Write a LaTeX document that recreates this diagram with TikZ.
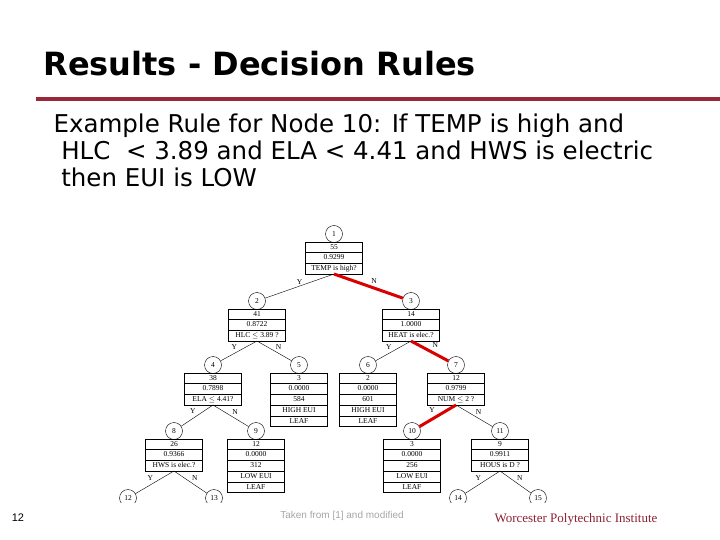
\documentclass[tikz,border=0pt]{standalone}
\usepackage{fontspec}
\usepackage{array}
\setmainfont{Liberation Serif}
\newfontfamily\slidefont{DejaVu Sans}
\newfontfamily\footfont{Liberation Sans}
\usetikzlibrary{positioning}
\definecolor{wpired}{rgb}{0.55, 0.13, 0.20}
\definecolor{rulered}{rgb}{0.60, 0.16, 0.22}
\newcolumntype{C}{@{}>{\centering\arraybackslash}p{57pt}@{}}
\newcommand{\cellrows}[1]{\renewcommand{\arraystretch}{1.25}\begin{tabular}{C}#1\end{tabular}}

\begin{document}
\begin{tikzpicture}[
        x=1pt, y=-1pt,
        ball/.style={circle, draw, minimum size=17pt, inner sep=0pt, font=\fontsize{7.5}{8}\selectfont},
        tbox/.style={draw, inner sep=0pt, font=\fontsize{7.5}{8.3}\selectfont},
        branch/.style={thin},
        path/.style={line width=3pt, red!85!black},
        yn/.style={font=\fontsize{7.5}{8}\selectfont, inner sep=1.5pt, text=black}
    ]
    \useasboundingbox (0,0) rectangle (720,540);

    % Heading
    \node[anchor=west, font=\slidefont\bfseries\fontsize{32}{36}\selectfont] (title) at (40,64) {Results - Decision Rules};
    \draw[rulered, line width=4pt] (36,99) -- (720,99);
    \node[anchor=north west, align=left, font=\slidefont\fontsize{24.5}{27}\selectfont] (rule) at (50,110)
        {Example Rule for Node 10: If TEMP is high and\\
         \ HLC\ \ {<} 3.89 and ELA {<} 4.41 and HWS is electric\\
         \ then EUI is LOW};

    % Tree nodes
    \node[ball] (c1) at (334,234) {1};
    \node[tbox, below=-1pt of c1] (b1) {\cellrows{55\\\hline 0.9299\\\hline TEMP is high?}};
    \node[ball] (c2) at (257,301) {2};
    \node[tbox, below=-1pt of c2] (b2) {\cellrows{41\\\hline 0.8722\\\hline HLC $\le$ 3.89 ?}};
    \node[ball] (c3) at (411,301) {3};
    \node[tbox, below=-1pt of c3] (b3) {\cellrows{14\\\hline 1.0000\\\hline HEAT is elec.?}};
    \node[ball] (c4) at (213,365) {4};
    \node[tbox, below=-1pt of c4] (b4) {\cellrows{38\\\hline 0.7898\\\hline ELA $\le$ 4.41?}};
    \node[ball] (c5) at (299,365) {5};
    \node[tbox, below=-1pt of c5] (b5) {\cellrows{3\\\hline 0.0000\\\hline 584\\\hline HIGH EUI\\\hline LEAF}};
    \node[ball] (c6) at (368,365) {6};
    \node[tbox, below=-1pt of c6] (b6) {\cellrows{2\\\hline 0.0000\\\hline 601\\\hline HIGH EUI\\\hline LEAF}};
    \node[ball] (c7) at (456,365) {7};
    \node[tbox, below=-1pt of c7] (b7) {\cellrows{12\\\hline 0.9799\\\hline NUM $\le$ 2 ?}};
    \node[ball] (c8) at (174,431) {8};
    \node[tbox, below=-1pt of c8] (b8) {\cellrows{26\\\hline 0.9366\\\hline HWS is elec.?}};
    \node[ball] (c9) at (256,431) {9};
    \node[tbox, below=-1pt of c9] (b9) {\cellrows{12\\\hline 0.0000\\\hline 312\\\hline LOW EUI\\\hline LEAF}};
    \node[ball] (c10) at (412,431) {10};
    \node[tbox, below=-1pt of c10] (b10) {\cellrows{3\\\hline 0.0000\\\hline 256\\\hline LOW EUI\\\hline LEAF}};
    \node[ball] (c11) at (500,431) {11};
    \node[tbox, below=-1pt of c11] (b11) {\cellrows{9\\\hline 0.9911\\\hline HOUS is D ?}};
    \begin{scope}
        \clip (100,480) rectangle (600,502);
        \node[ball] (c12) at (128,498) {12};
        \node[ball] (c13) at (214,498) {13};
        \node[ball] (c14) at (458,498) {14};
        \node[ball] (c15) at (538,498) {15};
    \end{scope}

    % Branches
    \draw[branch] (b1.south) -- node[yn, above] {Y} (c2);
    \draw[path] (b1.south) -- node[yn, above right] {N} (c3);
    \draw[branch] (b2.south) -- node[yn, above left] {Y} (c4);
    \draw[branch] (b2.south) -- node[yn, above right] {N} (c5);
    \draw[branch] (b3.south) -- node[yn, above left] {Y} (c6);
    \draw[path] (b3.south) -- node[yn, above right] {N} (c7);
    \draw[branch] (b4.south) -- node[yn, above left] {Y} (c8);
    \draw[branch] (b4.south) -- node[yn, above right] {N} (c9);
    \draw[path] (b7.south) -- node[yn, above left] {Y} (c10);
    \draw[branch] (b7.south) -- node[yn, above right] {N} (c11);
    \draw[branch] (b8.south) -- node[yn, above left] {Y} (c12);
    \draw[branch] (b8.south) -- node[yn, above right] {N} (c13);
    \draw[branch] (b11.south) -- node[yn, above left] {Y} (c14);
    \draw[branch] (b11.south) -- node[yn, above right] {N} (c15);

    % Footer
    \node[font=\footfont\fontsize{11}{13}\selectfont] (page) at (18,518) {12};
    \node[font=\footfont\fontsize{10}{12}\selectfont, gray!70] (source) at (342,516) {Taken from [1] and modified};
    \node[font=\fontsize{13}{15}\selectfont, wpired] (inst) at (576,519) {Worcester Polytechnic Institute};
\end{tikzpicture}
\end{document}
